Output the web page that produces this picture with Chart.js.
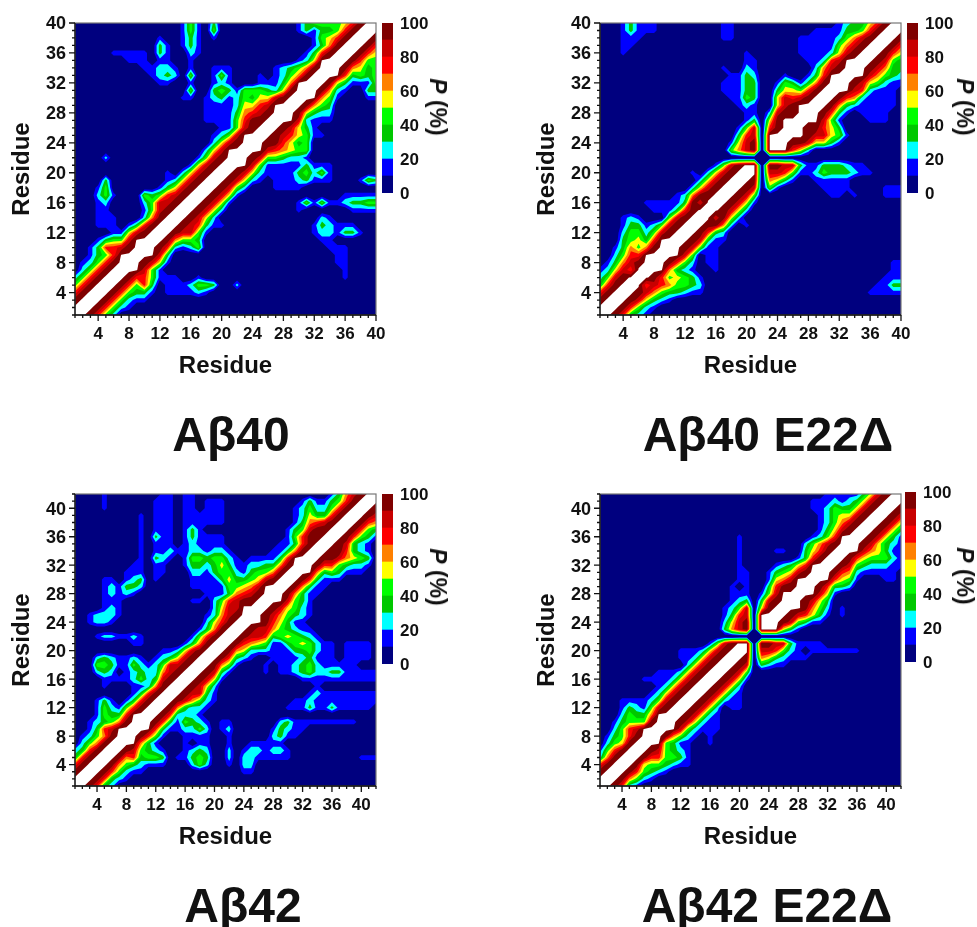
<!DOCTYPE html>
<html>
<head>
<meta charset="utf-8">
<script src="https://cdn.jsdelivr.net/npm/chart.js@4/dist/chart.umd.js"></script>
<style>
  body { margin: 0; background: #fff; }
  #page { position: relative; width: 977px; height: 927px; overflow: hidden; font-family: "Liberation Sans", Arial, sans-serif; font-weight: bold; color: #111; filter: blur(0.4px); }
  canvas { position: absolute; }
  .name { position: absolute; font-size: 48px; line-height: 56px; white-space: nowrap; transform: translateX(-50%); }
  .unit { position: absolute; font-size: 23px; line-height: 26px; white-space: nowrap; transform: translate(-50%, -50%) rotate(90deg); }
</style>
</head>
<body>
<div id="page"></div>
<script>
// P band per residue pair, one digit = tens of percent. Rows run from the top residue
// down and hold residues 1..y-2, the map is symmetric. x = no data (white)
const ab40Rows = [
  '0000000000 0000141030 0000000001 34444579',
  '0000000000 0000141040 0000000001 3133479',
  '0000000000 0100131010 0000000000 014579',
  '0000000000 0310131000 0000000000 01369',
  '0000011111 0310021000 0000000000 1379',
  '0000000111 0110010000 0000000001 25x',
  '0000000001 1221010011 1000001234 69',
  '0000000000 1232040014 1000101246 9',
  '0000000000 0110010012 100011136x',
  '0000000000 0000040034 314443259',
  '0000000000 0000110123 12435589',
  '0000000000 0000000111 125578x',
  '0000000000 0000000111 136789',
  '0000000000 0000000111 14799',
  '0000000000 0000000001 1489',
  '0000000000 0000000012 48x',
  '0000000000 0000000025 89',
  '0000000000 0000000258 x',
  '0000200000 0000001489',
  '0000000000 000001589',
  '0000000000 00102589',
  '0000300000 0012589',
  '0001400000 013589',
  '0002410004 34789',
  '0001200002 4889',
  '0001100001 489',
  '0001110002 69',
  '0001110137 9',
  '0000011589',
  '00013448x',
  '00137789',
  '001347x',
  '012479',
  '02479',
  '2479',
  '479',
  '79',
  '9',
];

const ab40e22Rows = [
  '0001311100 0000001100 0000000000 01233579',
  '0001311100 0000001100 0000000011 1133479',
  '0001110000 0000001100 0000001111 124689',
  '0001100000 0000000000 0000001111 14689',
  '0001000000 0000000001 0000001111 2589',
  '0000000000 0000000001 1000000112 78x',
  '0000000000 0000001002 1000000026 89',
  '0000000000 0000000113 2000100137 x',
  '0000000000 0000001113 3001431369',
  '0000000000 0000001113 300355479',
  '0000000000 0000000114 30058789',
  '0000000000 0000000012 100589x',
  '0000000000 0000000001 102899',
  '0000000000 0000000001 3059x',
  '0000000000 0000000014 8079',
  '0000000000 0000000037 80x',
  '0000000000 0000000158 90',
  '0000000000 0000000468 9',
  '0000000000 0000000000',
  '0000000000 000001489',
  '0000000000 00102589',
  '0000000000 0002589',
  '0000000000 002589',
  '0000000000 12699',
  '0000001111 1398',
  '0000000111 379',
  '0001210004 89',
  '0001331248 9',
  '0002442489',
  '00034537x',
  '00136469',
  '002477x',
  '013689',
  '12587',
  '2489',
  '379',
  '79',
  '9',
];

const ab42Rows = [
  '0000100000 0011011000 0000000000 0000013689',
  '0000100000 0111011011 1000000000 013113479',
  '0000100000 0111011011 1000000000 12422479',
  '0000000001 0111011111 1000000000 1253379',
  '0000000001 0111011111 1000000000 136789',
  '0000000001 0111013100 0000000001 34899',
  '0000000001 0311013111 1000000001 4799',
  '0000000001 0111012111 1000000011 379',
  '0000000001 0112112212 2100000113 69',
  '0000000001 0321014434 4210111137 x',
  '0000000011 0110013323 5311223369',
  '0000000111 0110002213 442134469',
  '0000110123 0100001111 35334589',
  '0000121332 0000001111 144568x',
  '0000121210 0000000011 136789',
  '0000111000 0000001102 47899',
  '0000121000 0000000002 588x',
  '0012221000 0000000012 689',
  '0012210000 0000000025 79',
  '0000000000 0000000136 9',
  '0001221121 0000001479',
  '0000000011 000001369',
  '0000000000 00112589',
  '0002321121 0123589',
  '0004431142 124889',
  '0002320123 22689',
  '0000111124 2389',
  '0000100011 269',
  '0000000013 79',
  '0001310137 9',
  '0001421479',
  '00014337x',
  '00123469',
  '001378x',
  '012469',
  '02469',
  '2379',
  '379',
  '79',
  '9',
];

const ab42e22Rows = [
  '0000000000 0000000000 0000000000 0111113589',
  '0000000000 0000000000 0000000001 112123589',
  '0000000000 0000000000 0000000001 12433589',
  '0000000000 0000000000 0000000000 1245589',
  '0000000000 0000000000 0000000000 124689',
  '0000000000 0000000000 0000000000 13589',
  '0000000000 0000000001 0000000001 247x',
  '0000000000 0000000001 0000000024 689',
  '0000000000 0000000001 0000110035 79',
  '0000000000 0000000001 0000000137 9',
  '0000000000 0000000001 000012357x',
  '0000000000 0000000001 100134589',
  '0000000000 0000000001 1001568x',
  '0000000000 0000000010 1003799',
  '0000000000 0000000011 10148x',
  '0000000000 0000000012 30389',
  '0000000000 0000000124 8059',
  '0000000000 0000000137 80x',
  '0000000000 0000000258 90',
  '0000000000 0000000368 9',
  '0000000000 0000000000',
  '0000000000 000001489',
  '0000000000 01112589',
  '0000000000 0112589',
  '0000000000 002589',
  '0000000011 12589',
  '0000001111 2589',
  '0000000012 589',
  '0000000125 89',
  '0001111248 9',
  '0001321489',
  '00024336x',
  '00134449',
  '002478x',
  '013479',
  '02459',
  '1479',
  '269',
  '79',
  '9',
];

const residueTicks = [4, 8, 12, 16, 20, 24, 28, 32, 36, 40];
const scaleTicks = [0, 20, 40, 60, 80, 100];
const bandSize = [10];
const bandColors = ['#00007f', '#0000ff', '#00ffff', '#00c800', '#00ff00', '#ffff00', '#ff8000', '#ff0000', '#c80000', '#7f0000'];
const noData = 101;

const page = document.getElementById('page');

function digitToP(ch) {
  if (ch === 'x') return noData;
  if (ch === '0') return 0;
  if (ch === '9') return 97;
  return Number(ch) * 10 + 5;
}

function buildNodes(rows, size, gap) {
  const cells = {};
  rows.forEach((row, r) => {
    const y = size - r;
    row.replace(/ /g, '').split('').forEach((ch, i) => {
      const v = digitToP(ch);
      cells[(i + 1) + '_' + y] = v;
      cells[y + '_' + (i + 1)] = v;
    });
  });
  const nodes = [];
  for (let y = 1; y <= size; y++) {
    for (let x = 1; x <= size; x++) {
      let v = cells[x + '_' + y];
      if (v === undefined) v = noData;
      if (x === gap || y === gap) v = 0;
      nodes.push({ x, y, v });
    }
  }
  return nodes;
}

function clipAbove(poly, level) {
  const out = [];
  poly.forEach((a, i) => {
    const b = poly[(i + 1) % poly.length];
    if (a.v >= level) out.push(a);
    if ((a.v >= level) !== (b.v >= level)) {
      const t = (level - a.v) / (b.v - a.v);
      out.push({ px: a.px + t * (b.px - a.px), py: a.py + t * (b.py - a.py), v: level });
    }
  });
  return out;
}

// filled bands between the grid nodes, positions come from the chart scales
const contourBands = {
  id: 'contourBands',
  beforeDatasetsDraw(chart) {
    const { ctx, chartArea, scales } = chart;
    const nodes = chart.data.datasets[0].data;
    const size = Math.sqrt(nodes.length);
    const pts = nodes.map((n) => ({ px: scales.x.getPixelForValue(n.x), py: scales.y.getPixelForValue(n.y), v: n.v }));
    ctx.save();
    ctx.beginPath();
    ctx.rect(chartArea.left, chartArea.top, chartArea.width, chartArea.height);
    ctx.clip();
    ctx.fillStyle = bandColors[0];
    ctx.fillRect(chartArea.left, chartArea.top, chartArea.width, chartArea.height);
    for (let k = 1; k <= 10; k++) {
      ctx.beginPath();
      for (let j = 0; j < size - 1; j++) {
        for (let i = 0; i < size - 1; i++) {
          const cell = [pts[j * size + i], pts[j * size + i + 1], pts[(j + 1) * size + i + 1], pts[(j + 1) * size + i]];
          const poly = clipAbove(cell, k * 10);
          if (poly.length < 3) continue;
          ctx.moveTo(poly[0].px, poly[0].py);
          poly.slice(1).forEach((p) => ctx.lineTo(p.px, p.py));
          ctx.closePath();
        }
      }
      ctx.fillStyle = k === 10 ? '#ffffff' : bandColors[k];
      ctx.fill();
    }
    ctx.restore();
  },
  afterDraw(chart) {
    const { ctx, chartArea, scales } = chart;
    const size = Math.sqrt(chart.data.datasets[0].data.length);
    ctx.save();
    ctx.strokeStyle = '#777';
    ctx.lineWidth = 1.2;
    ctx.strokeRect(chartArea.left, chartArea.top, chartArea.width, chartArea.height);
    ctx.strokeStyle = '#111';
    ctx.lineWidth = 1.3;
    ctx.beginPath();
    ctx.moveTo(chartArea.left, chartArea.top);
    ctx.lineTo(chartArea.left, chartArea.bottom);
    ctx.lineTo(chartArea.right, chartArea.bottom);
    for (let r = 1; r <= size; r++) {
      const len = residueTicks.includes(r) ? 6 : 3;
      const px = scales.x.getPixelForValue(r);
      const py = scales.y.getPixelForValue(r);
      ctx.moveTo(px, chartArea.bottom);
      ctx.lineTo(px, chartArea.bottom + len);
      ctx.moveTo(chartArea.left, py);
      ctx.lineTo(chartArea.left - len, py);
    }
    ctx.stroke();
    ctx.restore();
  },
};

function addCanvas(left, top, width, height) {
  const c = document.createElement('canvas');
  c.style.left = left + 'px';
  c.style.top = top + 'px';
  c.style.width = width + 'px';
  c.style.height = height + 'px';
  c.width = width;
  c.height = height;
  page.appendChild(c);
  return c;
}

function addText(cls, html, x, y) {
  const d = document.createElement('div');
  d.className = cls;
  d.innerHTML = html;
  d.style.left = x + 'px';
  d.style.top = y + 'px';
  page.appendChild(d);
}

function drawMap(rows, size, gap, plot) {
  const canvas = addCanvas(plot.left - 75, plot.top - 23, 75 + plot.width + 20, 23 + plot.height + 66);
  new Chart(canvas, {
    type: 'scatter',
    data: { datasets: [{ data: buildNodes(rows, size, gap), pointRadius: 0, showLine: false }] },
    plugins: [contourBands],
    options: {
      responsive: false,
      animation: false,
      events: [],
      layout: { padding: { left: 8, top: 23, right: 20, bottom: 0 } },
      plugins: { legend: { display: false }, tooltip: { enabled: false } },
      scales: {
        x: {
          type: 'linear',
          min: 1,
          max: size,
          afterFit: (s) => { s.height = 66; },
          grid: { display: false, drawTicks: false },
          border: { display: false },
          title: { display: true, text: 'Residue', color: '#111', padding: 0, font: { family: 'Liberation Sans', size: 24, weight: 'bold' } },
          ticks: {
            stepSize: 1,
            autoSkip: false,
            maxRotation: 0,
            padding: 9,
            color: '#111',
            font: { family: 'Liberation Sans', size: 17, weight: 'bold' },
            callback: (v) => (residueTicks.includes(v) ? v : ''),
          },
        },
        y: {
          type: 'linear',
          min: 1,
          max: size,
          afterFit: (s) => { s.width = 67; },
          grid: { display: false, drawTicks: false },
          border: { display: false },
          title: { display: true, text: 'Residue', color: '#111', padding: 0, font: { family: 'Liberation Sans', size: 24, weight: 'bold' } },
          ticks: {
            stepSize: 1,
            autoSkip: false,
            padding: 9,
            labelOffset: 1.5,
            color: '#111',
            font: { family: 'Liberation Sans', size: 18, weight: 'bold' },
            callback: (v) => (residueTicks.includes(v) ? v : ''),
          },
        },
      },
    },
  });
}

function drawColorBar(bar) {
  const canvas = addCanvas(bar.left, bar.top - 23, 11 + 40, bar.height + 46);
  new Chart(canvas, {
    type: 'bar',
    data: {
      labels: ['P'],
      datasets: bandColors.map((color) => ({ data: bandSize, backgroundColor: color, barPercentage: 1, categoryPercentage: 1 })),
    },
    options: {
      responsive: false,
      animation: false,
      events: [],
      layout: { padding: { top: 23, bottom: 23 } },
      plugins: { legend: { display: false }, tooltip: { enabled: false } },
      scales: {
        x: { stacked: true, display: false },
        y: {
          stacked: true,
          position: 'right',
          min: 0,
          max: 100,
          afterFit: (s) => { s.width = 40; },
          grid: { display: false, drawTicks: false },
          border: { display: false },
          ticks: {
            stepSize: 20,
            padding: 7,
            labelOffset: 1.5,
            color: '#111',
            font: { family: 'Liberation Sans', size: 17, weight: 'bold' },
            callback: (v) => (scaleTicks.includes(v) ? v : ''),
          },
        },
      },
    },
  });
}

drawMap(ab40Rows, 40, 0, { left: 75, top: 23, width: 301, height: 292 });
drawMap(ab40e22Rows, 40, 22, { left: 600, top: 23, width: 301, height: 292 });
drawMap(ab42Rows, 42, 0, { left: 75, top: 494, width: 301, height: 292 });
drawMap(ab42e22Rows, 42, 22, { left: 600, top: 494, width: 301, height: 292 });

drawColorBar({ left: 382, top: 23, height: 170 });
drawColorBar({ left: 907, top: 23, height: 170 });
drawColorBar({ left: 382, top: 494, height: 170 });
drawColorBar({ left: 905, top: 492, height: 170 });

addText('unit', '<i>P</i> (%)', 438, 107);
addText('unit', '<i>P</i> (%)', 965, 107);
addText('unit', '<i>P</i> (%)', 438, 577);
addText('unit', '<i>P</i> (%)', 965, 576);

addText('name', 'Aβ40', 231, 407);
addText('name', 'Aβ40 E22Δ', 768, 407);
addText('name', 'Aβ42', 243, 878);
addText('name', 'Aβ42 E22Δ', 767, 878);
</script>
</body>
</html>
